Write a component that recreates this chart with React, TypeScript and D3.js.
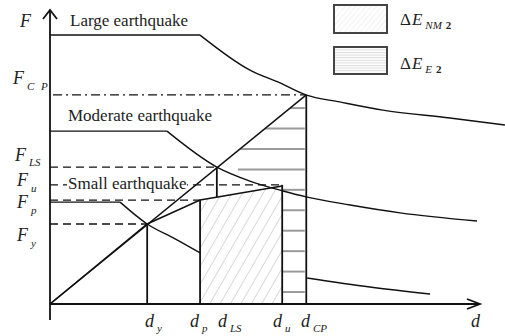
import React from "react";
import * as d3 from "d3";

// capacity curve (d, F) in chart units
const capacity: [number, number][] = [
  [0, 0],
  [22.6, 27.4],
  [34.9, 35.6],
  [54, 40.4],
];

// key displacements / forces
const dY = 22.6;
const dP = 34.9;
const dLS = 38.8;
const dU = 54;
const dCP = 59.6;
const fY = 27.4;
const fP = 35.6;
const fLS = 46.9;
const fU = 40.8;
const fCP = 71.6;

// demand curves
const largePlateau: [number, number][] = [
  [0, 92.1],
  [34.9, 92.1],
];
const largeCurve: [number, number][] = [
  [34.9, 92.1],
  [46.5, 80.1],
  [53.5, 75.7],
  [59.5, 71.6],
  [67.4, 69.2],
  [77.4, 66.4],
  [93.0, 63.7],
  [105.8, 61.3],
];
const moderatePlateau: [number, number][] = [
  [0, 59.2],
  [27.2, 59.2],
];
const moderateCurve: [number, number][] = [
  [27.2, 59.2],
  [38.8, 46.9],
  [46.5, 42.1],
  [54.2, 38.7],
  [59.8, 36.6],
  [69.8, 33.9],
  [81.4, 31.2],
  [99.3, 28.4],
];
const smallPlateau: [number, number][] = [
  [0, 34.9],
  [16.3, 34.9],
];
const smallCurveLeft: [number, number][] = [
  [16.3, 34.9],
  [22.6, 27.4],
  [29.1, 22.3],
  [34.9, 17.5],
];
const smallCurveRight: [number, number][] = [
  [59.8, 8.9],
  [74.4, 5.8],
  [88.4, 3.4],
];

// horizontal hatch levels of ΔE_E2
const hatchLevels = [67.1, 60.1, 53.1, 46.1, 39.1, 32.1, 25.1, 18.1, 11.1, 4.1];
const hatchLeft = 43.7;

const W = 505;
const H = 336;
const serif = "Liberation Serif";
const ink = "#111";

export default function App() {
  const x = d3.scaleLinear().domain([0, 100]).range([50, 480]);
  const y = d3.scaleLinear().domain([0, 100]).range([304, 12]);

  const line = d3
    .line<[number, number]>()
    .x((d) => x(d[0]))
    .y((d) => y(d[1]));
  const curve = d3
    .line<[number, number]>()
    .x((d) => x(d[0]))
    .y((d) => y(d[1]))
    .curve(d3.curveMonotoneX);

  const capAt = (d: number) => {
    const i = d3.bisector((p: [number, number]) => p[0]).right(capacity, d);
    const a = capacity[i - 1];
    const b = capacity[Math.min(i, capacity.length - 1)];
    if (a[0] === b[0]) return a[1];
    return a[1] + ((d - a[0]) / (b[0] - a[0])) * (b[1] - a[1]);
  };
  const elasticSlope = fCP / dCP;

  const diagPoly: [number, number][] = [
    [dP, 0],
    [dP, fP],
    [dU, capAt(dU)],
    [dU, 0],
  ];

  const hatchLines = hatchLevels.map((f) => {
    const topU = capAt(dU);
    const left = f > topU ? Math.max(f / elasticSlope, hatchLeft) : dU;
    return { f, left };
  });

  const txt = { fontFamily: serif, fill: "#222" } as React.CSSProperties;

  const sub = (main: string, s: string, px: number, py: number, sdy = 5, ls = 0) => (
    <text x={px} y={py} style={{ ...txt, fontStyle: "italic", fontSize: 18 }}>
      {main}
      <tspan dx={3} dy={sdy} style={{ fontSize: 11, letterSpacing: ls }}>
        {s}
      </tspan>
    </text>
  );

  return (
    <svg
      width={W}
      height={H}
      style={{ position: "fixed", left: 0, top: 0, background: "#fff" }}
    >
      <defs>
        <pattern id="diag" patternUnits="userSpaceOnUse" width={9} height={9} patternTransform="rotate(30)">
          <rect width={9} height={9} fill="#fff" />
          <line x1={0} y1={0} x2={0} y2={9} stroke="#c4c4c4" strokeWidth={1.3} />
        </pattern>
        <pattern id="diagSmall" patternUnits="userSpaceOnUse" width={4} height={4} patternTransform="rotate(40)">
          <rect width={4} height={4} fill="#fff" />
          <line x1={0} y1={0} x2={0} y2={4} stroke="#dcdcdc" strokeWidth={0.8} />
        </pattern>
        <pattern id="horiz" patternUnits="userSpaceOnUse" width={6} height={2.6}>
          <rect width={6} height={2.6} fill="#fff" />
          <line x1={0} y1={0.6} x2={6} y2={0.6} stroke="#cfcfcf" strokeWidth={0.8} />
        </pattern>
      </defs>

      {/* ΔE_NM2 region */}
      <path d={line(diagPoly) + "Z"} fill="url(#diag)" stroke="none" />

      {/* ΔE_E2 horizontal hatch */}
      {hatchLines.map((h, i) => (
        <line
          key={i}
          x1={x(h.left)}
          x2={x(dCP) - 1.5}
          y1={y(h.f)}
          y2={y(h.f)}
          stroke="#9a9a9a"
          strokeWidth={2}
        />
      ))}

      {/* dashed reference lines */}
      <g stroke={ink} strokeWidth={1.3} strokeDasharray="8,5" fill="none">
        <line x1={x(0)} x2={x(dLS)} y1={y(fLS)} y2={y(fLS)} />
        <line x1={x(0)} x2={x(dU)} y1={y(fU)} y2={y(fU)} />
        <line x1={x(0)} x2={x(dP)} y1={y(fP)} y2={y(fP)} />
        <line x1={x(0)} x2={x(dY)} y1={y(fY)} y2={y(fY)} />
      </g>
      <line
        x1={x(0.7)}
        x2={x(dCP)}
        y1={y(fCP)}
        y2={y(fCP)}
        stroke={ink}
        strokeWidth={1.3}
        strokeDasharray="9,4,2,4"
      />

      {/* earthquake labels */}
      <text x={70} y={26} style={{ ...txt, fontSize: 17 }}>
        Large earthquake
      </text>
      <text x={68} y={121} style={{ ...txt, fontSize: 17 }}>
        Moderate earthquake
      </text>
      <rect x={67} y={177} width={120} height={15} fill="#fff" />
      <text x={68} y={189} style={{ ...txt, fontSize: 17 }}>
        Small earthquake
      </text>

      {/* demand curves */}
      <g fill="none" stroke={ink} strokeWidth={1.4}>
        <path d={line(largePlateau) ?? ""} />
        <path d={curve(largeCurve) ?? ""} />
        <path d={line(moderatePlateau) ?? ""} />
        <path d={curve(moderateCurve) ?? ""} />
        <path d={line(smallPlateau) ?? ""} />
        <path d={curve(smallCurveLeft) ?? ""} />
        <path d={curve(smallCurveRight) ?? ""} />
      </g>

      {/* elastic line and capacity curve */}
      <g fill="none" stroke={ink} strokeWidth={1.5}>
        <path d={line([[0, 0], [dCP, fCP]]) ?? ""} />
        <path d={line(capacity) ?? ""} />
      </g>

      {/* verticals */}
      <g stroke={ink} strokeWidth={1.8}>
        <line x1={x(dY)} x2={x(dY)} y1={y(fY)} y2={y(0)} />
        <line x1={x(dP)} x2={x(dP)} y1={y(fP)} y2={y(0)} />
        <line x1={x(dLS)} x2={x(dLS)} y1={y(fLS)} y2={y(capAt(dLS))} />
        <line x1={x(dU)} x2={x(dU)} y1={y(fU)} y2={y(0)} />
        <line x1={x(dCP)} x2={x(dCP)} y1={y(fCP)} y2={y(0)} />
      </g>

      {/* axes */}
      <g stroke={ink} strokeWidth={1.8} fill="none">
        <line x1={x(0)} x2={x(0)} y1={y(-5.5)} y2={y(100) - 2} />
        <polyline points={`${x(0) - 7},${y(100) + 7} ${x(0)},${y(100) - 2} ${x(0) + 7},${y(100) + 7}`} />
        <line x1={x(0)} x2={x(100)} y1={y(0)} y2={y(0)} />
        <polyline points={`${x(100) - 13},${y(0) - 5} ${x(100)},${y(0)} ${x(100) - 13},${y(0) + 5}`} />
      </g>

      {/* axis labels */}
      <text x={20} y={27} style={{ ...txt, fontStyle: "italic", fontSize: 18 }}>
        F
      </text>
      <text x={471} y={327} style={{ ...txt, fontStyle: "italic", fontSize: 18 }}>
        d
      </text>

      {sub("F", "C P", 13, 84, 6, 2)}
      {sub("F", "LS", 15, 161, 5)}
      {sub("F", "u", 17, 186, 6)}
      {sub("F", "p", 17, 208, 6)}
      {sub("F", "y", 17, 241, 6)}

      {sub("d", "y", 145, 327, 5)}
      {sub("d", "p", 190, 327, 5)}
      {sub("d", "LS", 218, 327, 5)}
      {sub("d", "u", 273, 327, 5)}
      {sub("d", "CP", 301, 327, 5)}

      {/* legend */}
      <rect x={334} y={5} width={53} height={28} fill="url(#diagSmall)" stroke="#444" strokeWidth={2} />
      <rect x={334} y={47} width={53} height={27} fill="url(#horiz)" stroke="#444" strokeWidth={2} />
      <text x={400} y={25} style={{ ...txt, fontSize: 17 }}>
        Δ<tspan dx={1} style={{ fontStyle: "italic" }}>E</tspan>
        <tspan dx={3} dy={4} style={{ fontStyle: "italic", fontSize: 11 }}>NM</tspan>
        <tspan dx={4} style={{ fontSize: 11, fontWeight: "bold" }}>2</tspan>
      </text>
      <text x={400} y={69} style={{ ...txt, fontSize: 17 }}>
        Δ<tspan dx={1} style={{ fontStyle: "italic" }}>E</tspan>
        <tspan dx={3} dy={4} style={{ fontStyle: "italic", fontSize: 11 }}>E</tspan>
        <tspan dx={4} style={{ fontSize: 11, fontWeight: "bold" }}>2</tspan>
      </text>
    </svg>
  );
}
